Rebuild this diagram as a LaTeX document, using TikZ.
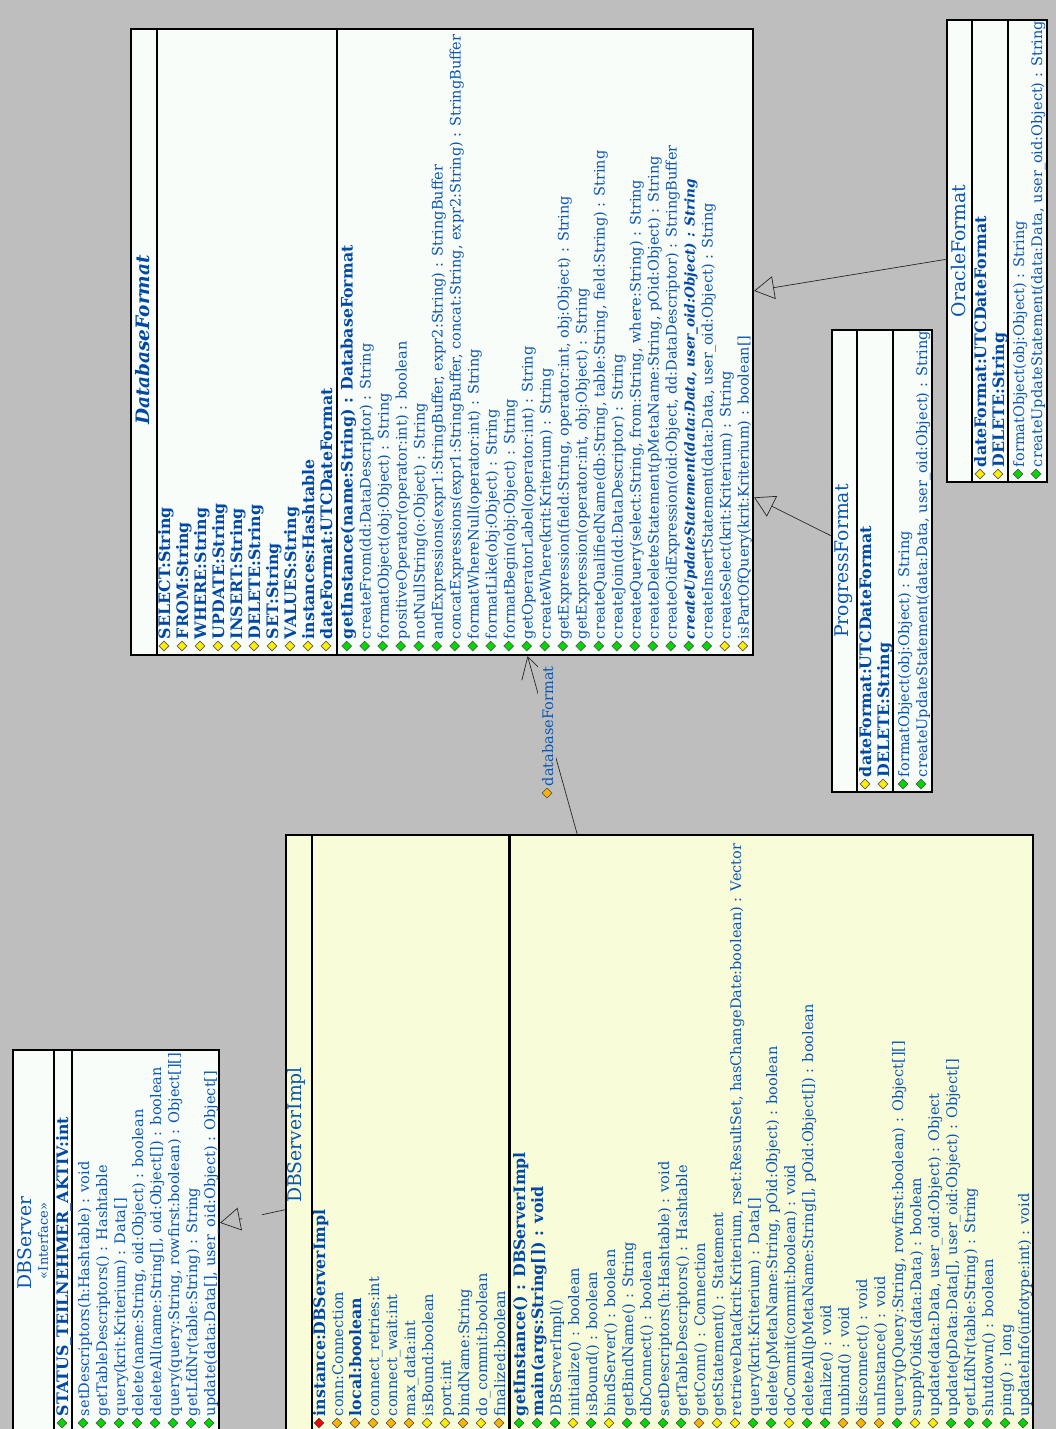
\documentclass[tikz,border=0pt]{standalone}
\usepackage{fontspec}
\setmainfont{DejaVu Serif}
\usetikzlibrary{shapes.geometric,arrows.meta,positioning}
\definecolor{canvasgray}{HTML}{BEBEBE}
\definecolor{boxmint}{HTML}{F8FDF9}
\definecolor{boxcream}{HTML}{F9FCD9}
\definecolor{inkblue}{HTML}{0A55B0}
\definecolor{inkdark}{HTML}{0048A6}
\definecolor{dotgreen}{HTML}{00D800}
\definecolor{dotyellow}{HTML}{FFEE00}
\definecolor{dotorange}{HTML}{FFB400}
\definecolor{dotred}{HTML}{F80000}
\newcommand{\rowfont}{\fontsize{14.5}{15}\selectfont}
\newcommand{\boldfont}{\fontsize{15.8}{16}\selectfont\bfseries}
\newcommand{\slantfont}{\fontsize{13.6}{15}\selectfont\bfseries\itshape}

\begin{document}
\begin{tikzpicture}[
  x=1pt, y=-1pt,
  node distance=18pt, on grid,
  classbox/.style={rectangle, draw=black, line width=2.2pt, inner sep=0pt},
  sepline/.style={draw=black, line width=2.2pt},
  titletext/.style={text=inkblue, rotate=90, inner sep=0pt, font=\fontsize{18.8}{20}\selectfont},
  rowdot/.style={diamond, draw=black!65, line width=0.6pt, inner sep=0pt, minimum size=10pt},
  gdot/.style={rowdot, fill=dotgreen},
  ydot/.style={rowdot, fill=dotyellow},
  odot/.style={rowdot, fill=dotorange},
  rdot/.style={rowdot, fill=dotred},
  rowtext/.style={text=inkblue, rotate=90, anchor=west, inner xsep=1.5pt, inner ysep=1pt, text height=14pt, text depth=2pt, font=\rowfont},
  row/.style={label={[rowtext]above:{#1}}},
  boldrow/.style={label={[rowtext, text=inkdark, font=\boldfont]above:{#1}}},
  slantrow/.style={label={[rowtext, text=inkdark, font=\slantfont]above:{#1}}},
  extends/.style={draw=black!85, line width=0.7pt, -{Triangle[open, length=20pt, width=23pt]}},
  assoc/.style={draw=black!85, line width=0.7pt, -{Straight Barb[length=21pt, width=24pt]}}
]
\clip (0,0) rectangle (1056,1429);
\fill[canvasgray] (0,0) rectangle (1056,1429);

% DatabaseFormat
\node[classbox, fill=boxmint, minimum width=622pt, minimum height=626pt] (dbformat) at (442,342) {};
\draw[sepline] (157,29) -- (157,655);
\draw[sepline] (337,29) -- (337,655);
\node[titletext, text=inkdark, font=\fontsize{18.5}{20}\selectfont\bfseries\itshape] (dbformatName) at (143,340) {DatabaseFormat};
\node[ydot, boldrow={SELECT:String}] (dfSelect) at (164,646) {};
\node[ydot, right=of dfSelect, boldrow={FROM:String}] (dfFrom) {};
\node[ydot, right=of dfFrom, boldrow={WHERE:String}] (dfWhere) {};
\node[ydot, right=of dfWhere, boldrow={UPDATE:String}] (dfUpdate) {};
\node[ydot, right=of dfUpdate, boldrow={INSERT:String}] (dfInsert) {};
\node[ydot, right=of dfInsert, boldrow={DELETE:String}] (dfDelete) {};
\node[ydot, right=of dfDelete, boldrow={SET:String}] (dfSet) {};
\node[ydot, right=of dfSet, boldrow={VALUES:String}] (dfValues) {};
\node[ydot, right=of dfValues, boldrow={instances:Hashtable}] (dfInstances) {};
\node[ydot, right=of dfInstances, boldrow={dateFormat:UTCDateFormat}] (dfDateFormat) {};
\node[gdot, boldrow={getInstance(name:String) : DatabaseFormat}] (dfGetInstance) at (346.7,646) {};
\node[gdot, right=of dfGetInstance, row={createFrom(dd:DataDescriptor) : String}] (dfCreateFrom) {};
\node[gdot, right=of dfCreateFrom, row={formatObject(obj:Object) : String}] (dfFormatObject) {};
\node[gdot, right=of dfFormatObject, row={positiveOperator(operator:int) : boolean}] (dfPositive) {};
\node[gdot, right=of dfPositive, row={notNullString(o:Object) : String}] (dfNotNull) {};
\node[gdot, right=of dfNotNull, row={andExpressions(expr1:StringBuffer, expr2:String) : StringBuffer}] (dfAndExpr) {};
\node[gdot, right=of dfAndExpr, row={concatExpressions(expr1:StringBuffer, concat:String, expr2:String) : StringBuffer}] (dfConcatExpr) {};
\node[gdot, right=of dfConcatExpr, row={formatWhereNull(operator:int) : String}] (dfWhereNull) {};
\node[gdot, right=of dfWhereNull, row={formatLike(obj:Object) : String}] (dfLike) {};
\node[gdot, right=of dfLike, row={formatBegin(obj:Object) : String}] (dfBegin) {};
\node[gdot, right=of dfBegin, row={getOperatorLabel(operator:int) : String}] (dfOpLabel) {};
\node[gdot, right=of dfOpLabel, row={createWhere(krit:Kriterium) : String}] (dfCreateWhere) {};
\node[gdot, right=of dfCreateWhere, row={getExpression(field:String, operator:int, obj:Object) : String}] (dfExprA) {};
\node[gdot, right=of dfExprA, row={getExpression(operator:int, obj:Object) : String}] (dfExprB) {};
\node[gdot, right=of dfExprB, row={createQualifiedName(db:String, table:String, field:String) : String}] (dfQualified) {};
\node[gdot, right=of dfQualified, row={createJoin(dd:DataDescriptor) : String}] (dfJoin) {};
\node[gdot, right=of dfJoin, row={createQuery(select:String, from:String, where:String) : String}] (dfQuery) {};
\node[gdot, right=of dfQuery, row={createDeleteStatement(pMetaName:String, pOid:Object) : String}] (dfDeleteStmt) {};
\node[gdot, right=of dfDeleteStmt, row={createOidExpression(oid:Object, dd:DataDescriptor) : StringBuffer}] (dfOidExpr) {};
\node[gdot, right=of dfOidExpr, slantrow={createUpdateStatement(data:Data, user\_oid:Object) : String}] (dfUpdateStmt) {};
\node[gdot, right=of dfUpdateStmt, row={createInsertStatement(data:Data, user\_oid:Object) : String}] (dfInsertStmt) {};
\node[ydot, right=of dfInsertStmt, row={createSelect(krit:Kriterium) : String}] (dfSelectStmt) {};
\node[ydot, right=of dfSelectStmt, row={isPartOfQuery(krit:Kriterium) : boolean[]}] (dfPartOf) {};

% ProgressFormat
\node[classbox, fill=boxmint, minimum width=100pt, minimum height=462pt] (progress) at (881.7,561) {};
\draw[sepline] (856.7,330) -- (856.7,792);
\draw[sepline] (893,330) -- (893,792);
\node[titletext] (progressName) at (844,561) {ProgressFormat};
\node[ydot, boldrow={dateFormat:UTCDateFormat}] (pfDateFormat) at (865,784) {};
\node[ydot, right=of pfDateFormat, boldrow={DELETE:String}] (pfDelete) {};
\node[gdot, row={formatObject(obj:Object) : String}] (pfFormat) at (903,784) {};
\node[gdot, right=of pfFormat, row={createUpdateStatement(data:Data, user\_oid:Object) : String}] (pfUpdate) {};

% OracleFormat
\node[classbox, fill=boxmint, minimum width=100pt, minimum height=462pt] (oracle) at (996.7,251) {};
\draw[sepline] (972,20) -- (972,482);
\draw[sepline] (1008,20) -- (1008,482);
\node[titletext] (oracleName) at (958,251) {OracleFormat};
\node[ydot, boldrow={dateFormat:UTCDateFormat}] (ofDateFormat) at (980,474) {};
\node[ydot, right=of ofDateFormat, boldrow={DELETE:String}] (ofDelete) {};
\node[gdot, row={formatObject(obj:Object) : String}] (ofFormat) at (1018,474) {};
\node[gdot, right=of ofFormat, row={createUpdateStatement(data:Data, user\_oid:Object) : String}] (ofUpdate) {};

% DBServer
\node[classbox, fill=boxmint, minimum width=206pt, minimum height=386pt] (dbserver) at (116,1243) {};
\draw[sepline] (54,1050) -- (54,1436);
\draw[sepline] (72,1050) -- (72,1436);
\node[titletext] (dbserverName) at (25,1243) {DBServer};
\node[titletext, font=\fontsize{13}{14}\selectfont] (dbserverKind) at (43,1241) {«Interface»};
\node[gdot, boldrow={STATUS\_TEILNEHMER\_AKTIV:int}] (dsStatus) at (62,1423) {};
\node[gdot, row={setDescriptors(h:Hashtable) : void}] (dsSetDesc) at (83,1423) {};
\node[gdot, right=of dsSetDesc, row={getTableDescriptors() : Hashtable}] (dsGetTable) {};
\node[gdot, right=of dsGetTable, row={query(krit:Kriterium) : Data[]}] (dsQueryA) {};
\node[gdot, right=of dsQueryA, row={delete(name:String, oid:Object) : boolean}] (dsDelete) {};
\node[gdot, right=of dsDelete, row={deleteAll(name:String[], oid:Object[]) : boolean}] (dsDeleteAll) {};
\node[gdot, right=of dsDeleteAll, row={query(query:String, rowfirst:boolean) : Object[][]}] (dsQueryB) {};
\node[gdot, right=of dsQueryB, row={getLfdNr(table:String) : String}] (dsLfdNr) {};
\node[gdot, right=of dsLfdNr, row={update(data:Data[], user\_oid:Object) : Object[]}] (dsUpdate) {};

% DBServerImpl
\node[classbox, fill=boxcream, minimum width=747pt, minimum height=600pt] (impl) at (659.7,1135) {};
\draw[sepline] (311.7,835) -- (311.7,1436);
\draw[sepline] (509.5,835) -- (509.5,1436);
\node[titletext] (implName) at (296,1135) {DBServerImpl};
\node[rdot, boldrow={instance:DBServerImpl}] (siInstance) at (319,1423) {};
\node[odot, right=of siInstance, row={conn:Connection}] (siConn) {};
\node[odot, right=of siConn, boldrow={local:boolean}] (siLocal) {};
\node[odot, right=of siLocal, row={connect\_retries:int}] (siRetries) {};
\node[odot, right=of siRetries, row={connect\_wait:int}] (siWait) {};
\node[odot, right=of siWait, row={max\_data:int}] (siMaxData) {};
\node[ydot, right=of siMaxData, row={isBound:boolean}] (siIsBound) {};
\node[ydot, right=of siIsBound, row={port:int}] (siPort) {};
\node[odot, right=of siPort, row={bindName:String}] (siBindName) {};
\node[ydot, right=of siBindName, row={do\_commit:boolean}] (siDoCommit) {};
\node[odot, right=of siDoCommit, row={finalized:boolean}] (siFinalized) {};
\node[gdot, boldrow={getInstance() : DBServerImpl}] (siGetInstance) at (519,1423) {};
\node[gdot, right=of siGetInstance, boldrow={main(args:String[]) : void}] (siMain) {};
\node[gdot, right=of siMain, row={DBServerImpl()}] (siCtor) {};
\node[ydot, right=of siCtor, row={initialize() : boolean}] (siInit) {};
\node[gdot, right=of siInit, row={isBound() : boolean}] (siBoundM) {};
\node[ydot, right=of siBoundM, row={bindServer() : boolean}] (siBindServer) {};
\node[gdot, right=of siBindServer, row={getBindName() : String}] (siGetBind) {};
\node[gdot, right=of siGetBind, row={dbConnect() : boolean}] (siDbConnect) {};
\node[gdot, right=of siDbConnect, row={setDescriptors(h:Hashtable) : void}] (siSetDesc) {};
\node[gdot, right=of siSetDesc, row={getTableDescriptors() : Hashtable}] (siGetTable) {};
\node[odot, right=of siGetTable, row={getConn() : Connection}] (siGetConn) {};
\node[ydot, right=of siGetConn, row={getStatement() : Statement}] (siGetStmt) {};
\node[ydot, right=of siGetStmt, row={retrieveData(krit:Kriterium, rset:ResultSet, hasChangeDate:boolean) : Vector}] (siRetrieve) {};
\node[gdot, right=of siRetrieve, row={query(krit:Kriterium) : Data[]}] (siQueryA) {};
\node[gdot, right=of siQueryA, row={delete(pMetaName:String, pOid:Object) : boolean}] (siDelete) {};
\node[ydot, right=of siDelete, row={doCommit(commit:boolean) : void}] (siDoCommitM) {};
\node[gdot, right=of siDoCommitM, row={deleteAll(pMetaName:String[], pOid:Object[]) : boolean}] (siDeleteAll) {};
\node[gdot, right=of siDeleteAll, row={finalize() : void}] (siFinalize) {};
\node[odot, right=of siFinalize, row={unbind() : void}] (siUnbind) {};
\node[odot, right=of siUnbind, row={disconnect() : void}] (siDisconnect) {};
\node[odot, right=of siDisconnect, row={unInstance() : void}] (siUnInstance) {};
\node[gdot, right=of siUnInstance, row={query(pQuery:String, rowfirst:boolean) : Object[][]}] (siQueryB) {};
\node[ydot, right=of siQueryB, row={supplyOids(data:Data) : boolean}] (siSupply) {};
\node[ydot, right=of siSupply, row={update(data:Data, user\_oid:Object) : Object}] (siUpdateA) {};
\node[gdot, right=of siUpdateA, row={update(pData:Data[], user\_oid:Object) : Object[]}] (siUpdateB) {};
\node[gdot, right=of siUpdateB, row={getLfdNr(table:String) : String}] (siLfdNr) {};
\node[gdot, right=of siLfdNr, row={shutdown() : boolean}] (siShutdown) {};
\node[gdot, right=of siShutdown, row={ping() : long}] (siPing) {};
\node[gdot, right=of siPing, row={updateInfo(infotype:int) : void}] (siUpdateInfo) {};

% connectors
\coordinate (implGapA) at (262,1214.7);
\coordinate (implGapB) at (242,1218.6);
\draw[draw=black!85, line width=0.7pt] (impl) -- (implGapA);
\draw[extends] (implGapB) -- (dbserver);
\draw[extends] (progress) -- (dbformat);
\draw[extends] (oracle) -- (dbformat);
\draw[assoc] (impl) -- (dbformat);
\node[odot, label={[rowtext, fill=canvasgray]above:{databaseFormat}}] (roleDb) at (547,793) {};
\end{tikzpicture}
\end{document}
